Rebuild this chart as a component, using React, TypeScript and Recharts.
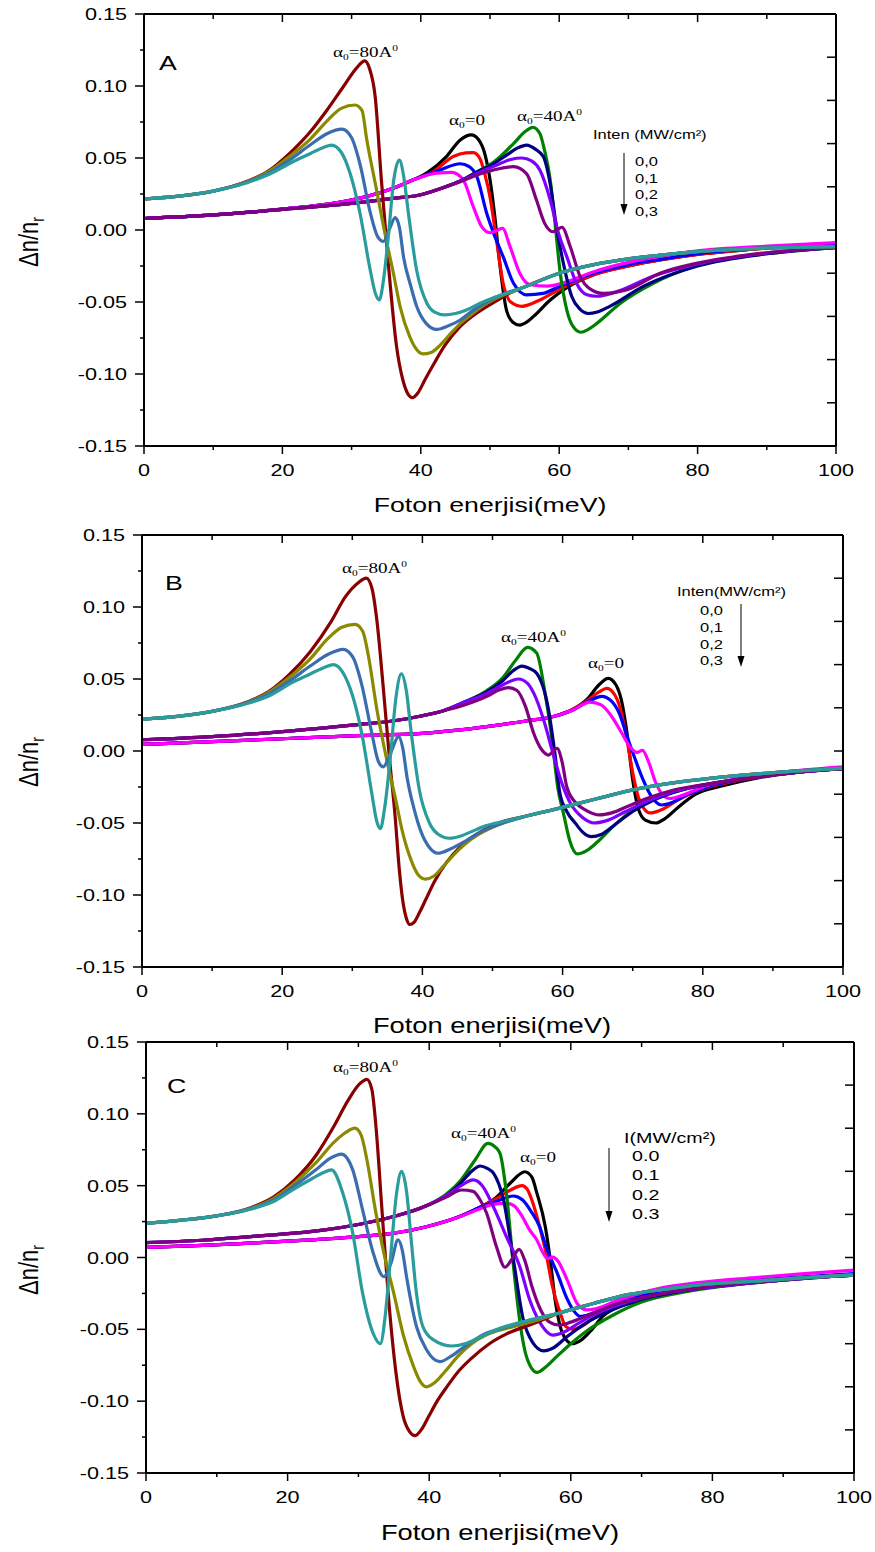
import { LineChart, Line, XAxis, YAxis } from "recharts";

type Pt = [number, number];

// ---------- panel A ----------
const A_0_0: Pt[] = [[0,0.008],[10,0.0105],[20,0.0145],[28,0.019],[32,0.023],[36,0.029],[39,0.035],[41,0.04],[43.7,0.051],[45.7,0.0625],[47.3,0.066],[48.3,0.063],[49.3,0.052],[50,0.035],[50.7,0.009],[51.4,-0.023],[52.4,-0.056],[53.3,-0.064],[54.3,-0.066],[55.3,-0.064],[56.3,-0.06],[58.7,-0.0486],[61.1,-0.04],[65,-0.031],[70,-0.025],[75,-0.0205],[80,-0.017],[90,-0.0125],[100,-0.0095]];
const A_0_1: Pt[] = [[0,0.008],[10,0.0105],[20,0.0145],[28,0.019],[32,0.023],[36,0.029],[39,0.035],[41.8,0.0405],[44.7,0.051],[46.5,0.0535],[47.6,0.0537],[48.5,0.05],[49.3,0.038],[50,0.023],[51,-0.009],[51.9,-0.037],[53,-0.05],[54.6,-0.053],[57.2,-0.0486],[60.1,-0.041],[65,-0.031],[70,-0.025],[75,-0.0205],[80,-0.017],[90,-0.0125],[100,-0.0095]];
const A_0_2: Pt[] = [[0,0.008],[10,0.0105],[20,0.0145],[28,0.019],[32,0.023],[36,0.029],[39,0.035],[42.8,0.0417],[45.7,0.046],[47,0.044],[48.1,0.037],[49.5,0.012],[50.5,-0.002],[51.9,-0.0185],[53.4,-0.037],[55.3,-0.045],[57.7,-0.044],[60.1,-0.039],[65,-0.03],[70,-0.024],[75,-0.02],[80,-0.0165],[90,-0.012],[100,-0.0093]];
const A_0_3: Pt[] = [[0,0.008],[10,0.0105],[20,0.0145],[28,0.019],[32,0.023],[36,0.029],[39,0.035],[42.3,0.0395],[44.5,0.04],[46.1,0.035],[47.6,0.016],[48.8,0.0023],[50,-0.0019],[51,-0.0003],[51.8,0.0012],[52.9,-0.0116],[54.3,-0.03],[55.8,-0.038],[58.2,-0.039],[61.1,-0.036],[65,-0.029],[70,-0.0225],[75,-0.018],[80,-0.0145],[90,-0.0112],[100,-0.0088]];
const A_40_0: Pt[] = [[0,0.008],[10,0.0105],[20,0.0143],[30,0.0185],[36,0.022],[40,0.0245],[43,0.029],[45.7,0.034],[48,0.04],[50.5,0.047],[53.4,0.06],[55,0.068],[56.2,0.0713],[57.2,0.067],[57.9,0.055],[58.7,0.035],[59.4,0.0046],[60.1,-0.028],[61.1,-0.0556],[62,-0.067],[63.1,-0.071],[64.2,-0.069],[65.4,-0.065],[68.8,-0.051],[73.6,-0.037],[80,-0.0245],[90,-0.0165],[100,-0.0122]];
const A_40_1: Pt[] = [[0,0.008],[10,0.0105],[20,0.0143],[30,0.0185],[36,0.022],[40,0.0245],[43,0.029],[45.7,0.034],[48,0.04],[50.5,0.046],[52.4,0.052],[54,0.057],[55.3,0.059],[56.6,0.056],[57.7,0.051],[58.7,0.032],[59.6,0.0023],[60.6,-0.023],[61.8,-0.046],[63,-0.055],[64.2,-0.058],[65.5,-0.057],[67.3,-0.053],[72.2,-0.039],[80,-0.025],[90,-0.0165],[100,-0.0122]];
const A_40_2: Pt[] = [[0,0.008],[10,0.0105],[20,0.0143],[30,0.0185],[36,0.022],[40,0.0245],[43,0.029],[45.7,0.034],[48,0.039],[51.4,0.046],[53,0.049],[54.6,0.05],[56,0.048],[57.2,0.0417],[58.7,0.021],[59.9,-0.0023],[61.1,-0.0185],[62.5,-0.037],[64,-0.045],[65.4,-0.046],[68.8,-0.042],[73.6,-0.032],[80,-0.0235],[90,-0.016],[100,-0.012]];
const A_40_3: Pt[] = [[0,0.008],[10,0.0105],[20,0.0143],[30,0.0185],[36,0.022],[40,0.0245],[43,0.029],[45.7,0.0335],[48,0.038],[50.5,0.0417],[53.4,0.044],[55.3,0.039],[56.7,0.021],[57.9,0.0046],[59.1,-0.0012],[59.8,0.0005],[60.4,0.0019],[61.6,-0.0116],[63,-0.032],[64.5,-0.041],[66.4,-0.044],[69.8,-0.0415],[74.6,-0.03],[80,-0.023],[90,-0.0158],[100,-0.012]];
const A_80_0: Pt[] = [[0,0.0215],[5,0.0235],[10,0.027],[15,0.034],[18,0.041],[21,0.053],[24,0.068],[26.4,0.083],[28.8,0.0995],[30.8,0.113],[31.9,0.1175],[32.6,0.112],[33.4,0.093],[34.3,0.035],[35.3,-0.023],[36.5,-0.081],[37.4,-0.104],[38.1,-0.1135],[38.8,-0.1165],[39.6,-0.113],[40.6,-0.104],[42,-0.092],[43.5,-0.08],[45.5,-0.068],[48,-0.058],[51,-0.049],[53,-0.0435],[55,-0.0395],[60,-0.03],[65,-0.024],[70,-0.02],[75,-0.0173],[80,-0.015],[90,-0.0125],[100,-0.0115]];
const A_80_1: Pt[] = [[0,0.0215],[5,0.0235],[10,0.027],[15,0.0337],[18,0.0405],[21,0.051],[24,0.063],[26.5,0.076],[28.5,0.0845],[30.5,0.0868],[31.5,0.083],[32.2,0.0625],[33.6,0.028],[35.1,-0.009],[36,-0.029],[37,-0.053],[38.4,-0.074],[39.4,-0.083],[40.3,-0.086],[41.5,-0.085],[42.8,-0.08],[44.3,-0.072],[45.7,-0.065],[47.5,-0.058],[49.5,-0.051],[52,-0.045],[55,-0.0395],[60,-0.03],[65,-0.024],[70,-0.02],[75,-0.0173],[80,-0.015],[90,-0.0125],[100,-0.0115]];
const A_80_2: Pt[] = [[0,0.0215],[5,0.0235],[10,0.027],[15,0.0335],[18,0.0395],[21,0.0485],[24,0.059],[26.5,0.067],[28.6,0.07],[30,0.064],[31.2,0.046],[32.7,0.012],[33.8,-0.005],[34.6,-0.008],[35.5,0.001],[36.3,0.0086],[36.9,0.002],[37.5,-0.0185],[38.5,-0.038],[39.4,-0.053],[40.8,-0.065],[42.3,-0.069],[44,-0.0665],[45.7,-0.0625],[47.5,-0.056],[49.5,-0.05],[52,-0.0445],[55,-0.0395],[60,-0.03],[65,-0.024],[70,-0.02],[75,-0.0173],[80,-0.015],[90,-0.0125],[100,-0.0115]];
const A_80_3: Pt[] = [[0,0.0215],[5,0.0235],[10,0.027],[15,0.033],[18,0.0385],[21.6,0.0476],[24,0.053],[26,0.0575],[27.1,0.059],[28.5,0.054],[29.8,0.039],[31.2,0.012],[32.7,-0.028],[33.5,-0.045],[34,-0.0486],[34.6,-0.035],[35.3,-0.005],[36.1,0.035],[36.9,0.0486],[37.5,0.038],[38.2,0.012],[39.4,-0.028],[40.9,-0.051],[42,-0.057],[43.5,-0.059],[45,-0.058],[46.6,-0.0556],[48.5,-0.051],[50.5,-0.047],[53,-0.043],[55.3,-0.039],[60,-0.03],[65,-0.024],[70,-0.02],[75,-0.0173],[80,-0.015],[90,-0.0125],[100,-0.0115]];

// ---------- panel B ----------
const B_0_0: Pt[] = [[0,0.0046],[10,0.0065],[20,0.0085],[30,0.0105],[40,0.0122],[45,0.0145],[50,0.0175],[55,0.021],[58.7,0.024],[61.5,0.029],[63.5,0.036],[65.2,0.046],[66.5,0.0505],[67.6,0.046],[68.4,0.035],[69.2,0.012],[70,-0.02],[70.8,-0.04],[71.8,-0.048],[73.3,-0.05],[74.6,-0.047],[76.5,-0.039],[79,-0.03],[83,-0.024],[88,-0.0185],[93,-0.015],[100,-0.0122]];
const B_0_1: Pt[] = [[0,0.0046],[10,0.0065],[20,0.0085],[30,0.0105],[40,0.0122],[45,0.0145],[50,0.0175],[55,0.021],[58.7,0.024],[61.5,0.029],[63.5,0.035],[65.2,0.041],[66.3,0.0435],[67.3,0.04],[68.2,0.03],[69.1,0.01],[70,-0.015],[70.8,-0.032],[71.6,-0.04],[72.5,-0.043],[74,-0.041],[76.5,-0.034],[79,-0.028],[83,-0.0225],[88,-0.018],[93,-0.015],[100,-0.0122]];
const B_0_2: Pt[] = [[0,0.0046],[10,0.0065],[20,0.0085],[30,0.0105],[40,0.0122],[45,0.0145],[50,0.0175],[55,0.021],[58.7,0.024],[61.5,0.0285],[63.5,0.034],[65.6,0.038],[66.9,0.035],[68.1,0.026],[69.2,0.01],[70.3,-0.005],[71.4,-0.019],[72.6,-0.031],[74.1,-0.0375],[75.5,-0.036],[77.5,-0.031],[80,-0.026],[83.5,-0.0215],[88,-0.0178],[93,-0.0148],[100,-0.012]];
const B_0_3: Pt[] = [[0,0.0046],[10,0.0065],[20,0.0085],[30,0.0105],[40,0.0122],[45,0.0145],[50,0.0175],[55,0.021],[58.7,0.024],[61.5,0.0285],[63.9,0.034],[65.5,0.032],[67,0.024],[68.5,0.012],[69.6,0.003],[70.6,-0.001],[71.4,0.0005],[72.3,-0.008],[73.2,-0.021],[74.2,-0.03],[75.3,-0.033],[77,-0.031],[80,-0.025],[84,-0.02],[90,-0.0155],[100,-0.011]];
const B_40_0: Pt[] = [[0,0.0078],[10,0.01],[20,0.0135],[30,0.018],[36,0.021],[40,0.0245],[43,0.028],[46,0.034],[49.2,0.042],[51.5,0.051],[53.3,0.063],[55,0.072],[56.3,0.068],[57.5,0.04],[58.5,0.0076],[59.3,-0.025],[60.2,-0.045],[61,-0.062],[62.1,-0.0715],[63.5,-0.069],[65,-0.063],[67.3,-0.052],[70,-0.041],[73,-0.033],[77,-0.027],[82,-0.022],[87,-0.0185],[93,-0.015],[100,-0.0123]];
const B_40_1: Pt[] = [[0,0.0078],[10,0.01],[20,0.0135],[30,0.018],[36,0.021],[40,0.0245],[43,0.028],[46,0.034],[49.2,0.041],[51.5,0.049],[53,0.056],[54.2,0.059],[55.4,0.057],[56.3,0.054],[57.9,0.031],[58.9,-0.0016],[59.6,-0.029],[60.6,-0.042],[61.8,-0.05],[63,-0.057],[64.1,-0.0595],[65.5,-0.058],[67.5,-0.051],[70,-0.042],[73,-0.034],[77,-0.027],[82,-0.022],[87,-0.0185],[93,-0.015],[100,-0.0123]];
const B_40_2: Pt[] = [[0,0.0078],[10,0.01],[20,0.0135],[30,0.018],[36,0.021],[40,0.0245],[43,0.028],[46,0.034],[49.2,0.04],[51.5,0.046],[53.7,0.05],[55,0.047],[55.9,0.04],[57.3,0.0215],[58.5,0.0007],[59.9,-0.0225],[61.2,-0.037],[62.8,-0.046],[64.5,-0.05],[66.5,-0.048],[69,-0.042],[72,-0.035],[76,-0.028],[82,-0.022],[87,-0.0185],[93,-0.015],[100,-0.0123]];
const B_40_3: Pt[] = [[0,0.0078],[10,0.01],[20,0.0135],[30,0.018],[36,0.021],[40,0.0245],[43,0.028],[46,0.032],[49.2,0.038],[51,0.0425],[52.3,0.044],[53.5,0.042],[54.7,0.031],[55.9,0.012],[57,0.001],[58,-0.0028],[58.6,-0.0005],[59.2,0.0019],[59.9,-0.007],[60.6,-0.025],[61.7,-0.035],[63.3,-0.041],[65.3,-0.0444],[67,-0.043],[69.5,-0.038],[72,-0.033],[76,-0.027],[82,-0.022],[87,-0.0185],[93,-0.015],[100,-0.0123]];
const B_80_0: Pt[] = [[0,0.022],[5,0.024],[10,0.0275],[15,0.034],[18,0.041],[21,0.053],[24,0.069],[27,0.09],[29,0.107],[30.9,0.117],[32,0.12],[32.8,0.113],[33.5,0.091],[34.4,0.045],[35.3,-0.005],[36.1,-0.045],[36.7,-0.082],[37.2,-0.104],[37.7,-0.116],[38.2,-0.1205],[38.8,-0.119],[39.6,-0.112],[40.5,-0.103],[41.8,-0.09],[43.5,-0.077],[45.5,-0.066],[48,-0.057],[51.5,-0.049],[55,-0.045],[59.3,-0.04],[65,-0.033],[71,-0.026],[76,-0.022],[81,-0.019],[87,-0.0162],[93,-0.014],[100,-0.012]];
const B_80_1: Pt[] = [[0,0.022],[5,0.024],[10,0.0275],[15,0.0337],[18,0.0405],[21,0.051],[24,0.064],[26.5,0.078],[28.5,0.086],[30.4,0.088],[31.5,0.083],[32.3,0.066],[33.5,0.029],[35,-0.008],[36.2,-0.034],[37.1,-0.055],[38.4,-0.076],[39.4,-0.086],[40.4,-0.089],[41.6,-0.087],[43,-0.08],[44.5,-0.072],[46,-0.065],[48,-0.058],[51.5,-0.05],[55,-0.045],[59.3,-0.04],[65,-0.033],[71,-0.026],[76,-0.022],[81,-0.019],[87,-0.0162],[93,-0.014],[100,-0.012]];
const B_80_2: Pt[] = [[0,0.022],[5,0.024],[10,0.0275],[15,0.0335],[18,0.0395],[21,0.0485],[24,0.059],[26.5,0.067],[28.7,0.0706],[30.1,0.065],[31.3,0.047],[32.8,0.012],[33.7,-0.007],[34.4,-0.011],[35.5,-0.001],[36.6,0.01],[37.2,0.002],[37.8,-0.018],[38.8,-0.04],[39.8,-0.056],[41,-0.067],[42.2,-0.071],[44,-0.068],[46,-0.063],[48,-0.057],[51.5,-0.05],[55,-0.045],[59.3,-0.04],[65,-0.033],[71,-0.026],[76,-0.022],[81,-0.019],[87,-0.0162],[93,-0.014],[100,-0.012]];
const B_80_3: Pt[] = [[0,0.022],[5,0.024],[10,0.0275],[15,0.033],[18,0.038],[21.6,0.048],[24,0.0535],[26,0.058],[27.3,0.06],[28.6,0.055],[30,0.039],[31.4,0.011],[32.8,-0.03],[33.5,-0.049],[34,-0.054],[34.6,-0.04],[35.4,-0.006],[36.2,0.036],[37,0.0535],[37.7,0.042],[38.4,0.013],[39.6,-0.028],[41,-0.05],[42.3,-0.058],[43.8,-0.0606],[45.5,-0.059],[47,-0.056],[49,-0.052],[51.5,-0.049],[55,-0.045],[59.3,-0.04],[65,-0.033],[71,-0.026],[76,-0.022],[81,-0.019],[87,-0.0162],[93,-0.014],[100,-0.012]];

// ---------- panel C ----------
const C_0_0: Pt[] = [[0,0.0071],[8,0.0085],[16,0.0103],[24,0.0125],[30,0.0145],[35,0.017],[39.6,0.0214],[44.3,0.0285],[47.2,0.035],[49.5,0.042],[51.5,0.052],[53.5,0.0597],[54.5,0.056],[55.2,0.045],[56.4,0.0214],[57.1,-0.0017],[57.8,-0.03],[58.5,-0.048],[59.3,-0.057],[60.2,-0.06],[61.3,-0.058],[63,-0.05],[64.5,-0.041],[67,-0.034],[70.1,-0.03],[75,-0.024],[80,-0.0205],[86,-0.0172],[93,-0.0143],[100,-0.0118]];
const C_0_1: Pt[] = [[0,0.0071],[8,0.0085],[16,0.0103],[24,0.0125],[30,0.0145],[35,0.017],[39.6,0.0214],[44.3,0.0285],[47.2,0.035],[49.5,0.041],[51.5,0.047],[53.1,0.05],[53.9,0.047],[54.5,0.04],[55.6,0.0214],[56.5,0.003],[57.4,-0.02],[58.5,-0.0386],[59.3,-0.048],[60.3,-0.05],[61.5,-0.048],[63,-0.043],[65,-0.037],[68,-0.031],[72,-0.026],[77,-0.0215],[83,-0.018],[90,-0.015],[100,-0.0118]];
const C_0_2: Pt[] = [[0,0.0071],[8,0.0085],[16,0.0103],[24,0.0125],[30,0.0145],[35,0.017],[39.6,0.0214],[44.3,0.0285],[47.2,0.035],[49.5,0.039],[51.9,0.0428],[53.2,0.04],[54.4,0.032],[55.6,0.0214],[56.5,0.0075],[58.1,-0.011],[59.5,-0.029],[60.4,-0.037],[61.3,-0.041],[63,-0.039],[65,-0.035],[68,-0.029],[72,-0.024],[77,-0.02],[83,-0.017],[90,-0.0143],[100,-0.0112]];
const C_0_3: Pt[] = [[0,0.0071],[8,0.0085],[16,0.0103],[24,0.0125],[30,0.0145],[35,0.017],[39.6,0.0214],[44.3,0.0284],[47.2,0.034],[49,0.037],[50.9,0.0377],[52,0.036],[53.2,0.028],[54.2,0.019],[55.2,0.0122],[56,0.004],[56.7,-0.0006],[57.5,0.0003],[58.1,-0.002],[59.5,-0.0157],[60.9,-0.032],[62.3,-0.0365],[64,-0.035],[66,-0.031],[69,-0.026],[73,-0.021],[78,-0.0175],[86,-0.014],[93,-0.0112],[100,-0.0088]];
const C_40_0: Pt[] = [[0,0.0103],[8,0.012],[16,0.015],[25,0.019],[30,0.023],[35,0.0285],[39.6,0.036],[42.4,0.044],[44.5,0.054],[46.5,0.068],[48.3,0.0795],[49.3,0.077],[50,0.0725],[50.9,0.045],[51.9,-0.006],[52.9,-0.048],[53.8,-0.07],[55.2,-0.08],[56.5,-0.076],[58,-0.069],[60,-0.06],[62,-0.052],[66,-0.04],[70,-0.031],[75,-0.025],[80,-0.021],[86,-0.0175],[93,-0.0145],[100,-0.0123]];
const C_40_1: Pt[] = [[0,0.0103],[8,0.012],[16,0.015],[25,0.019],[30,0.023],[35,0.0285],[39.6,0.036],[42.4,0.043],[44.5,0.052],[46,0.06],[47.2,0.0637],[48.2,0.062],[49.1,0.0586],[50.5,0.04],[51.9,-0.0017],[53.3,-0.0435],[54.6,-0.059],[56.2,-0.065],[57.5,-0.063],[59.5,-0.055],[62,-0.046],[66,-0.036],[70,-0.029],[75,-0.024],[80,-0.0205],[86,-0.0175],[93,-0.0145],[100,-0.0123]];
const C_40_2: Pt[] = [[0,0.0103],[8,0.012],[16,0.015],[25,0.019],[30,0.023],[35,0.0285],[39.6,0.036],[42.4,0.043],[44.5,0.05],[46.2,0.054],[47.5,0.05],[49.1,0.035],[50.9,0.0145],[52.8,-0.0064],[54.2,-0.0296],[55.5,-0.044],[57.5,-0.054],[59,-0.052],[61,-0.046],[64,-0.038],[68,-0.031],[73,-0.025],[80,-0.0205],[86,-0.0175],[93,-0.0145],[100,-0.0123]];
const C_40_3: Pt[] = [[0,0.0103],[8,0.012],[16,0.015],[25,0.019],[30,0.023],[35,0.0285],[39.6,0.036],[42.4,0.042],[44.6,0.047],[46.2,0.046],[47.2,0.04],[48.1,0.031],[49.5,0.0075],[50.7,-0.0068],[51.7,-0.001],[52.7,0.0057],[53.5,-0.002],[54.5,-0.02],[55.8,-0.037],[57,-0.045],[58.3,-0.047],[60,-0.045],[62.5,-0.04],[66,-0.033],[70,-0.028],[75,-0.0235],[80,-0.02],[86,-0.0172],[93,-0.0143],[100,-0.0122]];
const C_80_0: Pt[] = [[0,0.0238],[5,0.026],[10,0.029],[15,0.035],[18,0.042],[21,0.054],[24,0.071],[26.5,0.091],[28.5,0.109],[30.2,0.121],[31.2,0.124],[31.9,0.117],[32.5,0.09],[33.3,0.035],[34.2,-0.025],[35.3,-0.08],[36.3,-0.11],[37.2,-0.121],[38,-0.124],[39,-0.119],[40,-0.11],[41,-0.101],[42.5,-0.09],[44,-0.08],[46,-0.07],[48.5,-0.06],[51,-0.053],[55,-0.0455],[58.5,-0.0385],[63.2,-0.032],[67.9,-0.026],[72.6,-0.0226],[78,-0.019],[86,-0.0165],[93,-0.014],[100,-0.0121]];
const C_80_1: Pt[] = [[0,0.0238],[5,0.026],[10,0.029],[15,0.0345],[18,0.041],[21,0.052],[24,0.066],[26.5,0.08],[28.2,0.087],[29.5,0.09],[30.4,0.085],[31.2,0.068],[32.4,0.033],[33.6,0.003],[35,-0.025],[36.4,-0.055],[37.8,-0.076],[38.7,-0.086],[39.6,-0.09],[40.8,-0.087],[42.3,-0.079],[44,-0.069],[46,-0.06],[48.5,-0.053],[52,-0.048],[55,-0.044],[58.5,-0.0385],[63.2,-0.032],[67.9,-0.026],[72.6,-0.0226],[78,-0.019],[86,-0.0165],[93,-0.014],[100,-0.0121]];
const C_80_2: Pt[] = [[0,0.0238],[5,0.026],[10,0.029],[15,0.0343],[18,0.04],[21,0.05],[24,0.061],[26,0.069],[27.6,0.072],[29.2,0.061],[30.6,0.033],[32.1,0.003],[33.6,-0.0134],[34.6,-0.004],[35.6,0.0122],[36.2,0.005],[36.8,-0.0134],[38.2,-0.048],[39.6,-0.064],[41.5,-0.0725],[43,-0.069],[45,-0.062],[47.5,-0.054],[50.5,-0.049],[54,-0.044],[58.5,-0.0385],[63.2,-0.032],[67.9,-0.026],[72.6,-0.0226],[78,-0.019],[86,-0.0165],[93,-0.014],[100,-0.0121]];
const C_80_3: Pt[] = [[0,0.0238],[5,0.026],[10,0.029],[15,0.034],[18,0.039],[21,0.048],[23.5,0.055],[25,0.059],[26.2,0.061],[27.8,0.0447],[29.2,0.017],[30.6,-0.025],[32.1,-0.053],[33.1,-0.06],[33.8,-0.04],[34.5,-0.002],[35.4,0.045],[36.1,0.06],[36.8,0.046],[37.5,0.01],[38.2,-0.025],[39.1,-0.048],[40.5,-0.057],[43.2,-0.0616],[45.3,-0.0597],[47,-0.056],[49.1,-0.051],[51.5,-0.047],[53.8,-0.044],[58.5,-0.0385],[63.2,-0.032],[67.9,-0.026],[72.6,-0.0226],[78,-0.019],[86,-0.0165],[93,-0.014],[100,-0.0121]];

// tick values
const X_TICKS = [0, 10, 20, 30, 40, 50, 60, 70, 80, 90, 100];
const Y_TICKS = [-0.15, -0.125, -0.1, -0.075, -0.05, -0.025, 0, 0.025, 0.05, 0.075, 0.1, 0.125, 0.15];
const RIGHT_TICKS = [-0.12, -0.09, -0.06, -0.03, 0, 0.03, 0.06, 0.09, 0.12];

const SANS = "'Liberation Sans', Arial, sans-serif";
const SERIF = "'Liberation Serif', 'Times New Roman', serif";
const SX = 1.27; // the figure is stretched horizontally

const C = {
  black: "#000000", red: "#ff0000", blue: "#0000ff", magenta: "#ff00ff",
  green: "#008000", navy: "#000080", violet: "#8000ff", purple: "#800080",
  maroon: "#880000", olive: "#8a8a00", steel: "#3a6cb0", teal: "#2a9c9c",
};

interface Series { color: string; pts: Pt[] }

const mk = (g0: Pt[][], g40: Pt[][], g80: Pt[][]): Series[] => [
  { color: C.black, pts: g0[0] }, { color: C.red, pts: g0[1] }, { color: C.blue, pts: g0[2] }, { color: C.magenta, pts: g0[3] },
  { color: C.green, pts: g40[0] }, { color: C.navy, pts: g40[1] }, { color: C.violet, pts: g40[2] }, { color: C.purple, pts: g40[3] },
  { color: C.maroon, pts: g80[0] }, { color: C.olive, pts: g80[1] }, { color: C.steel, pts: g80[2] }, { color: C.teal, pts: g80[3] },
];

const PANEL_A = mk([A_0_0, A_0_1, A_0_2, A_0_3], [A_40_0, A_40_1, A_40_2, A_40_3], [A_80_0, A_80_1, A_80_2, A_80_3]);
const PANEL_B = mk([B_0_0, B_0_1, B_0_2, B_0_3], [B_40_0, B_40_1, B_40_2, B_40_3], [B_80_0, B_80_1, B_80_2, B_80_3]);
const PANEL_C = mk([C_0_0, C_0_1, C_0_2, C_0_3], [C_40_0, C_40_1, C_40_2, C_40_3], [C_80_0, C_80_1, C_80_2, C_80_3]);

const AXIS = { stroke: "#000", strokeWidth: 2 };

const isMajorY = (v: number) => Math.abs(v * 20 - Math.round(v * 20)) < 1e-6;

const LeftTick = (p: any) => {
  const major = isMajorY(p.payload.value);
  return (
    <g>
      <line x1={p.x - (major ? 9 : 4)} x2={p.x} y1={p.y} y2={p.y} stroke="#000" strokeWidth={1.5} />
      {major && (
        <g transform={`translate(${p.x - 17},${p.y}) scale(${SX},1)`}>
          <text x={0} y={0} dy="0.36em" textAnchor="end" fontSize={17} fontFamily={SANS} fill="#000">
            {p.payload.value.toFixed(2)}
          </text>
        </g>
      )}
    </g>
  );
};

const BottomTick = (p: any) => {
  const major = p.payload.value % 20 === 0;
  return (
    <g>
      <line x1={p.x} x2={p.x} y1={p.y} y2={p.y + (major ? 8 : 4)} stroke="#000" strokeWidth={1.5} />
      {major && (
        <g transform={`translate(${p.x},${p.y + 30}) scale(${SX},1)`}>
          <text x={0} y={0} textAnchor="middle" fontSize={17} fontFamily={SANS} fill="#000">
            {p.payload.value}
          </text>
        </g>
      )}
    </g>
  );
};

const TopTick = (p: any) => {
  const major = p.payload.value % 20 === 0;
  return <line x1={p.x} x2={p.x} y1={p.y} y2={p.y + (major ? 8 : 5)} stroke="#000" strokeWidth={1.5} />;
};

const RightTick = (p: any) => (
  <line x1={p.x - 9} x2={p.x} y1={p.y} y2={p.y} stroke="#000" strokeWidth={1.5} />
);

interface PanelProps {
  top: number;
  height: number;
  plot: { l: number; r: number; t: number; b: number };
  series: Series[];
}

const Panel = ({ top, height, plot, series }: PanelProps) => {
  const LW = 60, RW = 10, TH = 10, BH = 30;
  const margin = { top: plot.t - TH, left: plot.l - LW, right: 875 - plot.r - RW, bottom: height - plot.b - BH };
  return (
    <div style={{ position: "absolute", left: 0, top }}>
      <LineChart width={875} height={height} margin={margin}>
        <XAxis xAxisId="b" dataKey="x" type="number" domain={[0, 100]} ticks={X_TICKS} interval={0}
          allowDataOverflow height={BH} tickSize={0} tickMargin={0} tick={BottomTick} tickLine={false} axisLine={AXIS} />
        <XAxis xAxisId="t" orientation="top" dataKey="x" type="number" domain={[0, 100]} ticks={X_TICKS} interval={0}
          allowDataOverflow height={TH} tickSize={0} tickMargin={0} tick={TopTick} tickLine={false} axisLine={AXIS} />
        <YAxis yAxisId="l" type="number" domain={[-0.15, 0.15]} ticks={Y_TICKS} interval={0}
          allowDataOverflow width={LW} tickSize={0} tickMargin={0} tick={LeftTick} tickLine={false} axisLine={AXIS} />
        <YAxis yAxisId="r" orientation="right" type="number" domain={[-0.15, 0.15]} ticks={RIGHT_TICKS} interval={0}
          allowDataOverflow width={RW} tickSize={0} tickMargin={0} tick={RightTick} tickLine={false} axisLine={AXIS} />
        {series.map((s, i) => (
          <Line key={i} xAxisId="b" yAxisId="l" data={s.pts.map(([x, y]) => ({ x, y }))} dataKey="y"
            type="monotone" stroke={s.color} strokeWidth={3.2} dot={false} activeDot={false} isAnimationActive={false} />
        ))}
      </LineChart>
    </div>
  );
};

// stretched text helper
const T = ({ x, y, size, anchor = "start", font = SANS, children }: any) => (
  <g transform={`translate(${x},${y}) scale(${SX},1)`}>
    <text x={0} y={0} textAnchor={anchor} fontSize={size} fontFamily={font} fill="#000">{children}</text>
  </g>
);

const Alpha = ({ x, y, value, ang }: { x: number; y: number; value: string; ang?: boolean }) => (
  <T x={x} y={y} size={15} font={SERIF}>
    α<tspan fontSize={9} dy={3}>0</tspan>
    <tspan dy={-3}>={value}</tspan>
    {ang && <tspan fontSize={9} dy={-6}>0</tspan>}
  </T>
);

const Arrow = ({ x, y1, y2 }: { x: number; y1: number; y2: number }) => (
  <g>
    <line x1={x} x2={x} y1={y1} y2={y2 - 8} stroke="#000" strokeWidth={1} />
    <polygon points={`${x - 3.5},${y2 - 11} ${x + 3.5},${y2 - 11} ${x},${y2}`} fill="#000" />
  </g>
);

const YTitle = ({ x, y }: { x: number; y: number }) => (
  <g transform={`translate(${x},${y}) scale(${SX},1) rotate(-90)`}>
    <text x={0} y={0} textAnchor="middle" fontSize={22} fontFamily={SANS} fill="#000">
      Δn/n<tspan fontSize={14} dy={5}>r</tspan>
    </text>
  </g>
);

const Legend = ({ x, y, title, vals, dy, size, vx }: any) => (
  <g>
    <T x={x} y={y} size={size}>{title}</T>
    {vals.map((v: string, i: number) => (
      <T key={v} x={vx} y={y + dy[0] + i * dy[1]} size={size}>{v}</T>
    ))}
  </g>
);

export default function App() {
  return (
    <div style={{ position: "absolute", left: 0, top: 0, width: 875, height: 1552, background: "#fff" }}>
      <Panel top={0} height={520} plot={{ l: 144, r: 836, t: 14, b: 446 }} series={PANEL_A} />
      <Panel top={520} height={510} plot={{ l: 142, r: 843, t: 15, b: 447 }} series={PANEL_B} />
      <Panel top={1030} height={522} plot={{ l: 146, r: 854, t: 12, b: 443 }} series={PANEL_C} />

      <svg width={875} height={1552} style={{ position: "absolute", left: 0, top: 0, pointerEvents: "none" }}>
        {/* panel A */}
        <T x={159} y={70} size={21}>A</T>
        <Alpha x={333} y={57} value="80A" ang />
        <Alpha x={449} y={125} value="0" />
        <Alpha x={517} y={121} value="40A" ang />
        <Legend x={593} y={139} title="Inten (MW/cm²)" vals={["0,0", "0,1", "0,2", "0,3"]} dy={[27, 16.5]} size={13} vx={635} />
        <Arrow x={624} y1={153} y2={215} />
        <T x={490} y={512} size={21} anchor="middle">Foton enerjisi(meV)</T>
        <YTitle x={38} y={242} />

        {/* panel B */}
        <T x={165} y={590} size={21}>B</T>
        <Alpha x={342} y={573} value="80A" ang />
        <Alpha x={501} y={642} value="40A" ang />
        <Alpha x={588} y={668} value="0" />
        <Legend x={677} y={596} title="Inten(MW/cm²)" vals={["0,0", "0,1", "0,2", "0,3"]} dy={[19, 16.8]} size={13} vx={700} />
        <Arrow x={741} y1={604} y2={667} />
        <T x={492} y={1033} size={21.5} anchor="middle">Foton enerjisi(meV)</T>
        <YTitle x={38} y={762} />

        {/* panel C */}
        <T x={167} y={1093} size={21}>C</T>
        <Alpha x={333} y={1072} value="80A" ang />
        <Alpha x={451} y={1138} value="40A" ang />
        <Alpha x={520} y={1162} value="0" />
        <Legend x={624} y={1143} title="I(MW/cm²)" vals={["0.0", "0.1", "0.2", "0.3"]} dy={[18, 19.3]} size={15.5} vx={632} />
        <Arrow x={609} y1={1148} y2={1222} />
        <T x={500} y={1540} size={21.5} anchor="middle">Foton enerjisi(meV)</T>
        <YTitle x={38} y={1270} />
      </svg>
    </div>
  );
}
